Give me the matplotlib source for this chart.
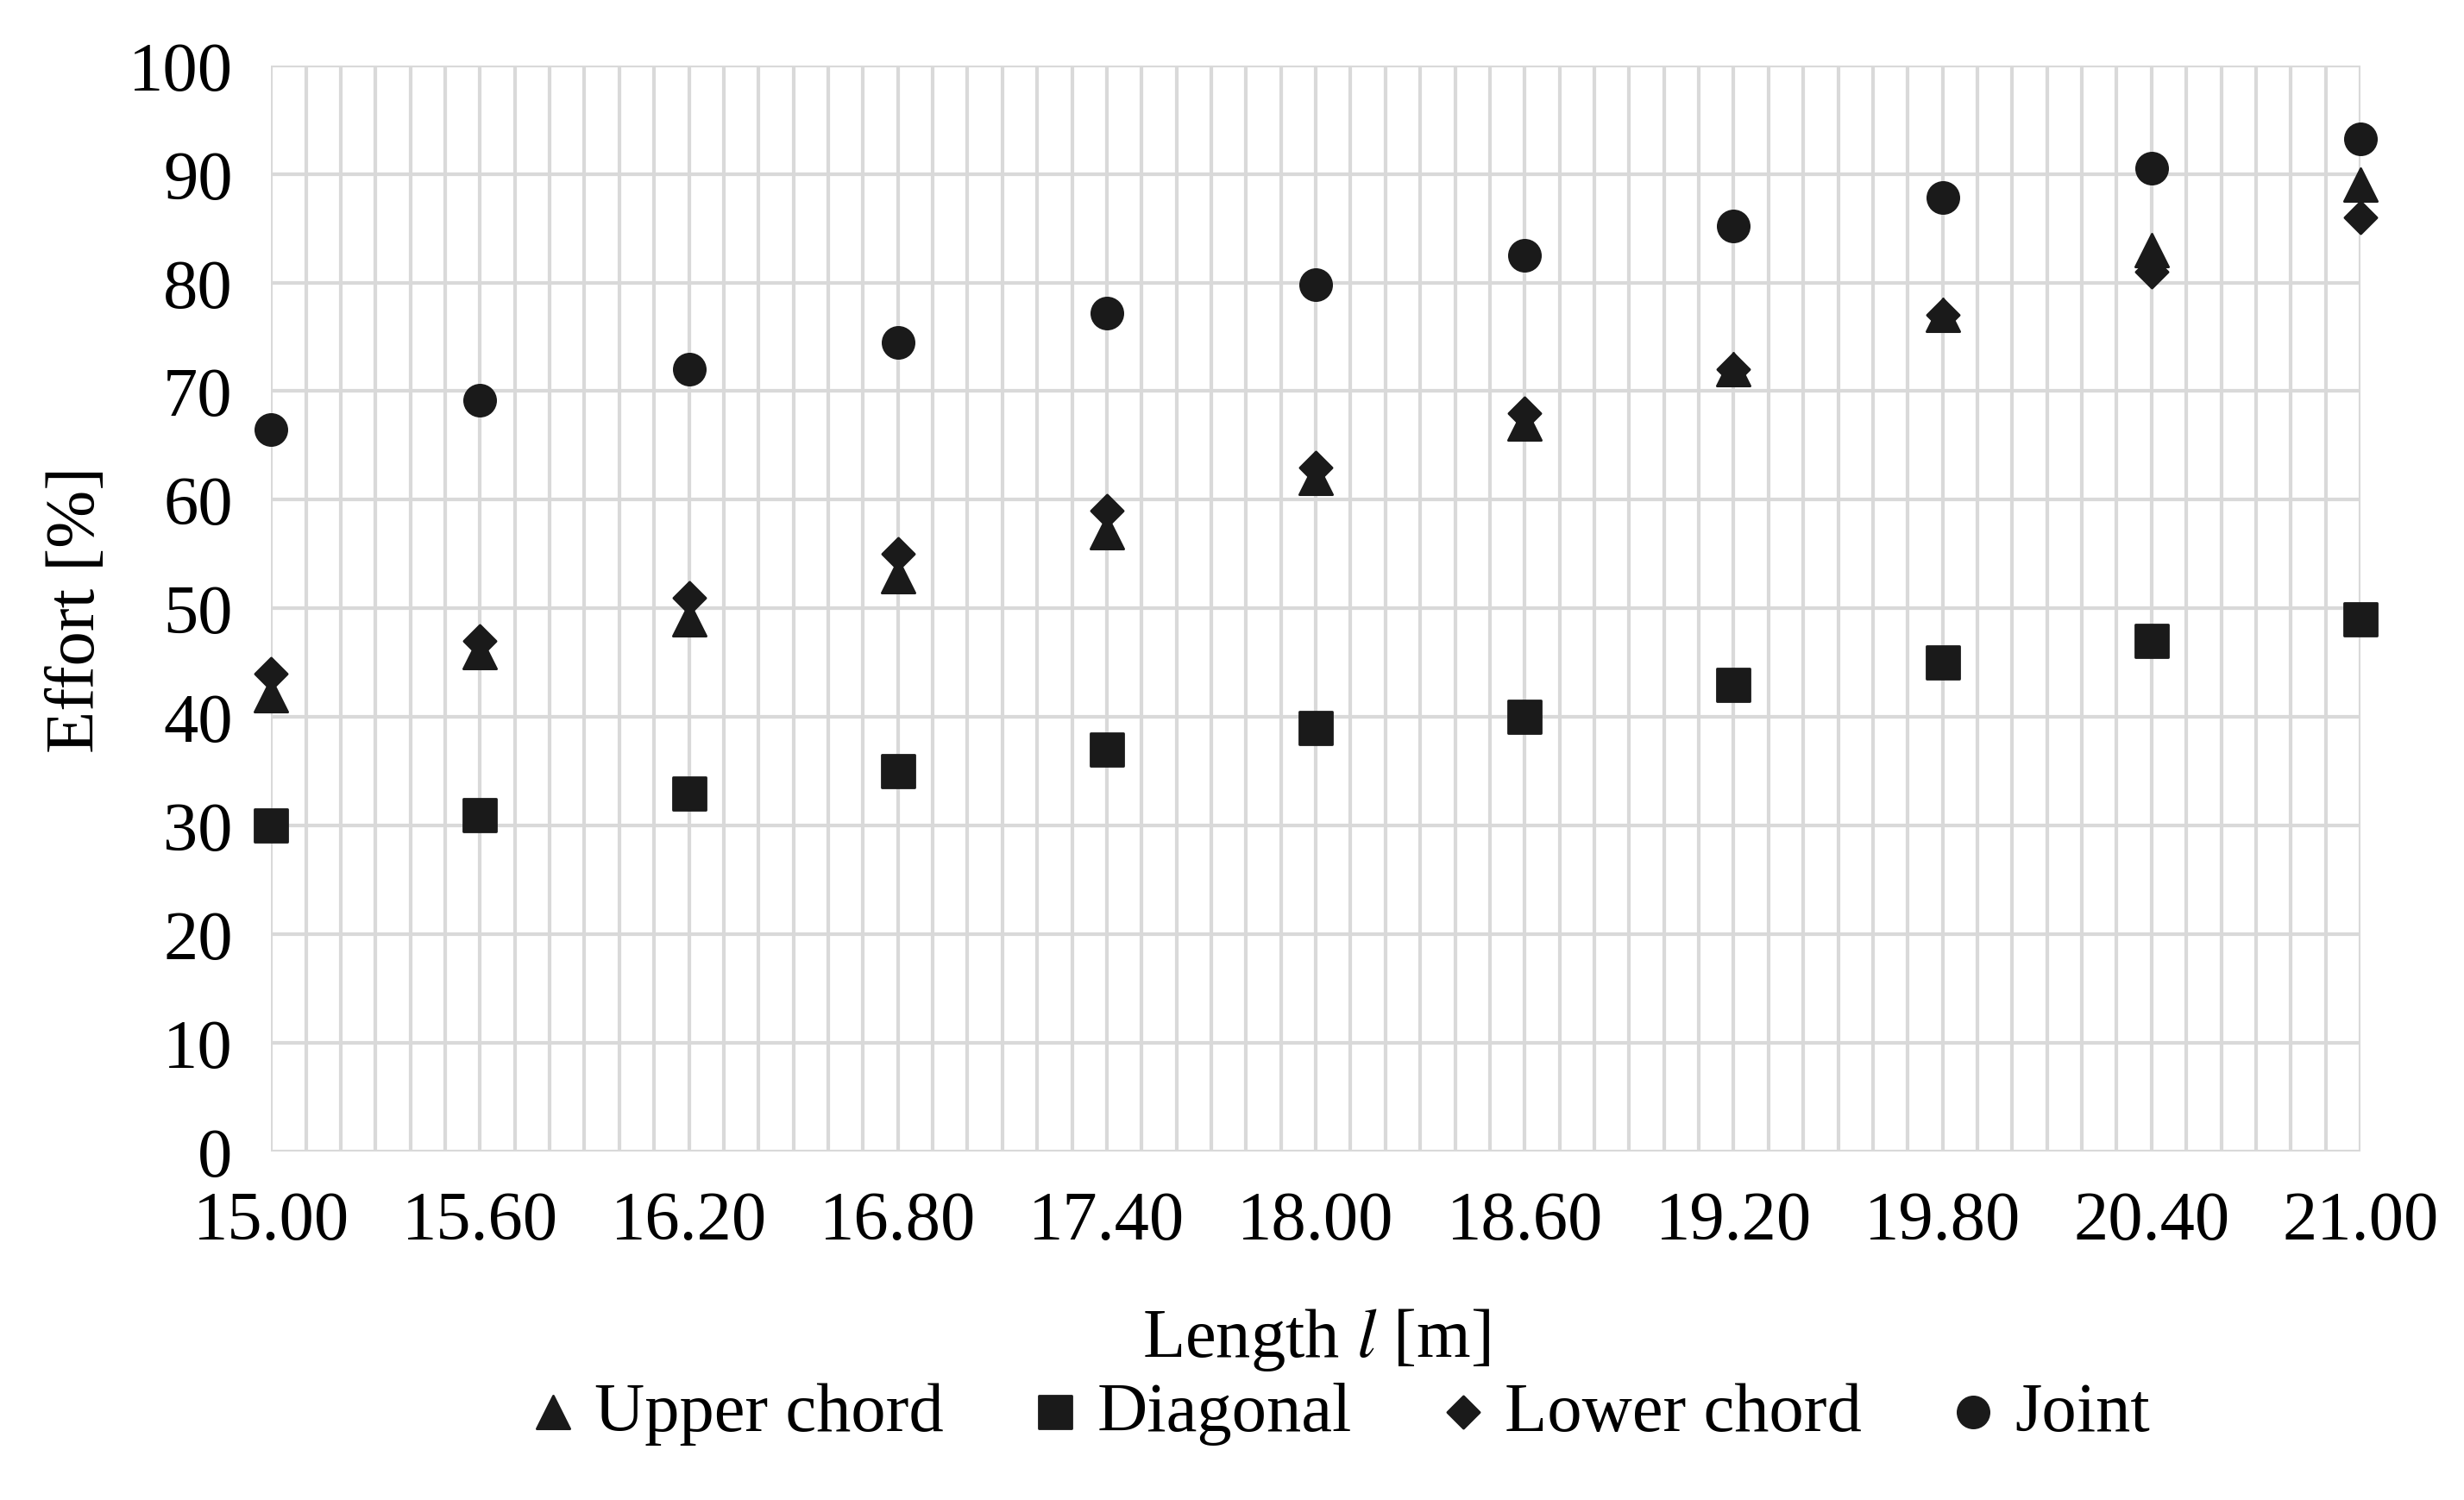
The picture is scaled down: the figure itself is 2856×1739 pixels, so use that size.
import numpy as np
import matplotlib
matplotlib.use("Agg")
import matplotlib.pyplot as plt
from matplotlib.ticker import MultipleLocator

plt.rcParams['font.family'] = ['Liberation Serif', 'DejaVu Serif']
plt.rcParams['mathtext.fontset'] = 'stix'

lengths = [15.0, 15.6, 16.2, 16.8, 17.4, 18.0, 18.6, 19.2, 19.8, 20.4, 21.0]
upper_chord = [42, 46, 49, 53, 57, 62, 67, 72, 77, 83, 89]
diagonal = [30, 31, 33, 35, 37, 39, 40, 43, 45, 47, 49]
lower_chord = [44, 47, 51, 55, 59, 63, 68, 72, 77, 81, 86]
joint = [66.5, 69.2, 72.0, 74.5, 77.2, 79.8, 82.5, 85.2, 87.8, 90.5, 93.2]

fig = plt.figure(figsize=(14.28, 8.7), dpi=200)
ax = fig.add_axes([0.110, 0.232, 0.848, 0.724])

c = '#1a1a1a'
kw = dict(color=c, zorder=3, clip_on=False)
ax.scatter(lengths, upper_chord, marker='^', s=190, label='Upper chord', **kw)
ax.scatter(lengths, diagonal, marker='s', s=190, label='Diagonal', **kw)
ax.scatter(lengths, lower_chord, marker='D', s=90, label='Lower chord', **kw)
ax.scatter(lengths, joint, marker='o', s=170, label='Joint', **kw)

ax.set_xlim(15.0, 21.0)
ax.set_ylim(0, 100)
ax.xaxis.set_minor_locator(MultipleLocator(0.1))
ax.yaxis.set_major_locator(MultipleLocator(10))
ax.set_xticks(lengths)
ax.set_xticklabels([f"{v:.2f}" for v in lengths])
ax.grid(True, which='both', axis='x', color='#d9d9d9', lw=1.5)
ax.grid(True, which='major', axis='y', color='#d9d9d9', lw=1.5)
ax.set_axisbelow(True)
for s in ax.spines.values():
    s.set_visible(False)
ax.tick_params(which='both', length=0, labelsize=29, pad=16)

ax.set_xlabel('Length $\\mathit{l}$ [m]', fontsize=29, labelpad=22)
ax.set_ylabel('Effort [%]', fontsize=29, labelpad=8)
fig.legend(loc='lower center', bbox_to_anchor=(0.54, -0.005), ncol=4, frameon=False,
           fontsize=29, handletextpad=0.0, columnspacing=1.0, handlelength=1.2)

fig.savefig('out.png', dpi=200, facecolor='white')
